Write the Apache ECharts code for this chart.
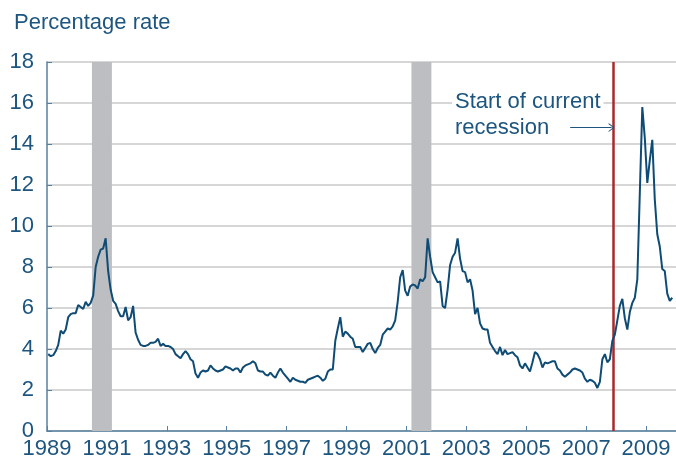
<!DOCTYPE html>
<html>
<head>
<meta charset="utf-8">
<script src="https://cdn.jsdelivr.net/npm/echarts@6/dist/echarts.min.js"></script>
<style>
  html, body { margin: 0; padding: 0; background: #fff; }
  #chart { width: 676px; height: 464px; }
</style>
</head>
<body>
<div id="chart"></div>
<script>
// monthly series, Jan 1989 onward
const startYear = 1989;
const rates = [
  3.75, 3.65, 3.7, 3.9, 4.2, 4.9, 4.75, 4.95, 5.55, 5.7, 5.75, 5.75,
  6.15, 6.05, 5.95, 6.3, 6.1, 6.25, 6.6, 8.0, 8.5, 8.85, 8.9, 9.4,
  7.8, 6.9, 6.35, 6.2, 5.85, 5.6, 5.6, 6.05, 5.4, 5.55, 6.1, 4.8,
  4.45, 4.2, 4.15, 4.15, 4.2, 4.3, 4.3, 4.35, 4.5, 4.15, 4.25, 4.15,
  4.15, 4.1, 4.0, 3.75, 3.65, 3.55, 3.75, 3.9, 3.75, 3.5, 3.4, 2.8,
  2.6, 2.85, 2.95, 2.9, 2.95, 3.2, 3.05, 2.95, 2.9, 2.95, 3.0, 3.15,
  3.1, 3.05, 2.95, 3.05, 3.05, 2.85, 3.1, 3.2, 3.25, 3.3, 3.4, 3.3,
  2.95, 2.9, 2.9, 2.75, 2.7, 2.85, 2.7, 2.6, 2.85, 3.05, 2.85, 2.7,
  2.55, 2.4, 2.6, 2.5, 2.45, 2.4, 2.4, 2.35, 2.5, 2.55, 2.6, 2.65,
  2.7, 2.6, 2.45, 2.55, 2.9, 3.0, 3.0, 4.4, 5.0, 5.55, 4.6, 4.85,
  4.75, 4.6, 4.5, 4.1, 4.1, 4.1, 3.85, 4.05, 4.25, 4.3, 4.0, 3.8,
  4.05, 4.2, 4.7, 4.85, 5.0, 4.95, 5.1, 5.4, 6.3, 7.5, 7.85, 6.85,
  6.6, 7.05, 7.15, 7.1, 6.95, 7.4, 7.3, 7.5, 9.4, 8.5, 7.75, 7.5,
  7.25, 7.3, 6.1, 6.0, 6.9, 8.1, 8.5, 8.7, 9.4, 8.4, 7.8, 7.75,
  7.25, 7.4, 6.85, 5.7, 6.0, 5.25, 5.0, 4.95, 4.95, 4.3, 4.1, 3.9,
  3.75, 4.1, 3.7, 3.95, 3.75, 3.8, 3.85, 3.7, 3.6, 3.2, 3.05, 3.3,
  3.1, 2.9, 3.35, 3.85, 3.75, 3.5, 3.1, 3.35, 3.3, 3.35, 3.4, 3.4,
  3.05, 2.95, 2.75, 2.65, 2.75, 2.85, 3.0, 3.05, 3.0, 2.95, 2.85, 2.55,
  2.4, 2.5, 2.45, 2.35, 2.1, 2.4, 3.5, 3.75, 3.35, 3.5, 4.4, 4.7,
  5.4, 6.1, 6.45, 5.5, 4.95, 5.8, 6.25, 6.5, 7.4, 11.6, 15.8, 14.3,
  12.1, 13.2, 14.2, 11.3, 9.6, 9.0, 7.9, 7.8, 6.7, 6.35, 6.5
];
// recession bands, month index from Jan 1989 (start, end)
const recessions = [[18, 26], [146, 154]];
const currentStart = 227; // Dec 2007
const noteLines = ['Start of current', 'recession'];

const txtColor = '#1d557f';
const lineColor = '#0f4c75';

const points = rates.map((v, i) => [i + 0.5, v]);

let chart = echarts.init(document.getElementById('chart'));

let option = {
    animation: false,
    title: {
        text: 'Percentage rate',
        left: 9,
        top: 7,
        textStyle: {
            color: txtColor,
            fontSize: 22,
            fontWeight: 'normal',
            fontFamily: 'Liberation Sans, Arial'
        }
    },
    grid: {
        left: 47,
        right: 0,
        top: 62,
        bottom: 33
    },
    xAxis: {
        type: 'value',
        min: 0,
        max: 252,
        interval: 24,
        splitLine: { show: false },
        axisLine: { show: true, lineStyle: { color: '#56809f', width: 1.5 } },
        axisTick: { show: true, inside: true, length: 5, lineStyle: { color: '#56809f' } },
        axisLabel: {
            color: txtColor,
            fontSize: 22,
            fontFamily: 'Liberation Sans, Arial',
            margin: 7,
            showMaxLabel: false,
            formatter: function (v) {
                return v >= 252 ? '' : String(startYear + v / 12);
            }
        }
    },
    yAxis: {
        type: 'value',
        min: 0,
        max: 18,
        interval: 2,
        axisLine: { show: true, lineStyle: { color: '#56809f', width: 1.5 } },
        axisTick: { show: true, inside: true, length: 5, lineStyle: { color: '#56809f' } },
        splitLine: { lineStyle: { color: '#c8c8c8', width: 1.5 } },
        axisLabel: {
            color: txtColor,
            fontSize: 22,
            fontFamily: 'Liberation Sans, Arial',
            margin: 13
        }
    },
    graphic: noteLines.map((t, k) => ({
        type: 'text',
        left: 452,
        top: 89 + k * 26,
        z: 10,
        style: {
            text: t,
            fill: txtColor,
            font: '22px "Liberation Sans", Arial',
            backgroundColor: '#fff',
            padding: [2, 3, 3, 3]
        }
    })),
    series: [
        {
            name: 'rate',
            type: 'line',
            data: points,
            symbol: 'none',
            smooth: false,
            lineStyle: { color: lineColor, width: 2 },
            z: 5,
            markArea: {
                silent: true,
                itemStyle: { color: '#bdbec1' },
                data: recessions.map(r => [{ xAxis: r[0] }, { xAxis: r[1] }])
            },
            markLine: {
                silent: true,
                symbol: 'none',
                label: { show: false },
                data: [
                    {
                        xAxis: currentStart,
                        lineStyle: { color: '#a8282b', width: 2.5, type: 'solid' }
                    },
                    [
                        { coord: [209.6, 14.8], symbol: 'none' },
                        {
                            coord: [226.2, 14.8],
                            symbol: 'path://M0,10 L5,0 L10,10 L8.8,10 L5,2.6 L1.2,10 Z',
                            symbolSize: [9, 6],
                            lineStyle: { color: txtColor, width: 1, type: 'solid' }
                        }
                    ]
                ]
            }
        }
    ]
};

option && chart.setOption(option);
</script>
</body>
</html>
